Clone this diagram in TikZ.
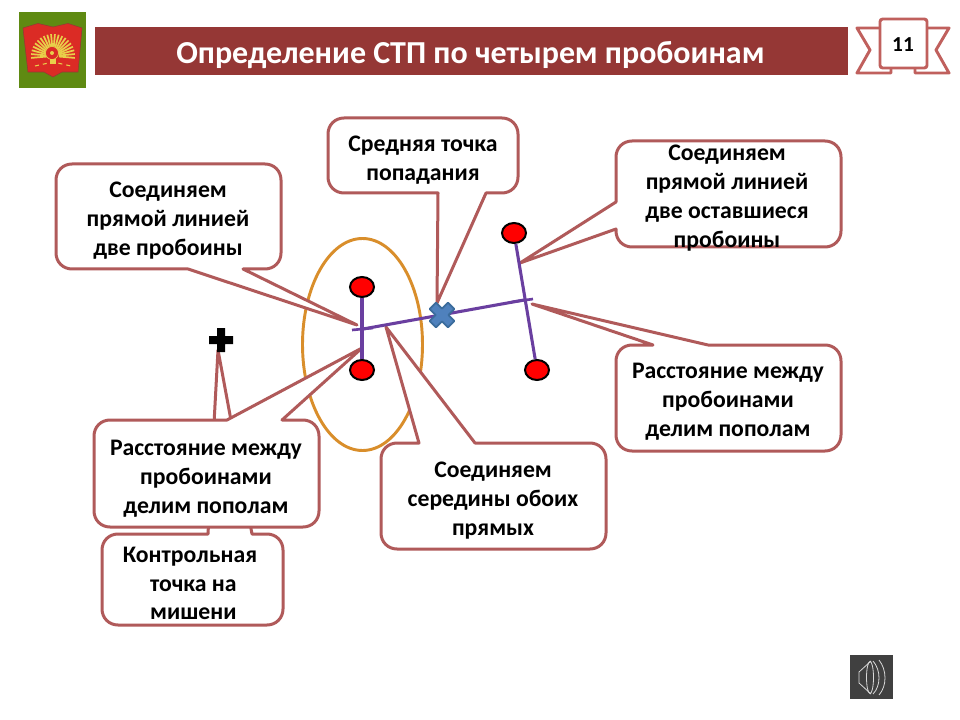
\documentclass[tikz,border=0pt]{standalone}
\usepackage{fontspec}
\setmainfont{Carlito}
\usetikzlibrary{shapes.geometric}
\definecolor{band}{HTML}{953735}
\definecolor{edgec}{HTML}{B05A5A}
\definecolor{ribbon}{HTML}{C0605D}
\definecolor{orangec}{HTML}{D98E2B}
\definecolor{purplec}{HTML}{6A3FA0}
\definecolor{crossf}{HTML}{4F81BD}
\definecolor{crossd}{HTML}{3B6C9C}
\definecolor{logog}{HTML}{5F8A12}
\definecolor{logor}{HTML}{DB2B25}
\definecolor{logoy}{HTML}{E8D04A}
\tikzset{
  callout/.style={draw=edgec,fill=white,line width=2.25pt,line join=round},
  label/.style={font=\fontsize{17.8}{21.6}\selectfont\bfseries,align=center,text=black,inner sep=0pt},
  hole/.style={ellipse,draw=black,fill=red,line width=1.5pt,minimum width=18pt,minimum height=15pt,inner sep=0pt},
  seg/.style={draw=purplec,line width=2.3pt},
  tick/.style={draw=purplec,line width=2pt},
}
% #1 left, #2 top, #3 right, #4 bottom; #5-#8 wedge pieces on the top, right, bottom, left side
\newcommand{\callbox}[8]{%
  \draw[callout] ({#1+16},#2) #5 -- ({#3-16},#2) .. controls ({#3-7},#2) and (#3,{#2+7}) .. (#3,{#2+16})
    #6 -- (#3,{#4-16}) .. controls (#3,{#4-7}) and ({#3-7},#4) .. ({#3-16},#4)
    #7 -- ({#1+16},#4) .. controls ({#1+7},#4) and (#1,{#4-7}) .. (#1,{#4-16})
    #8 -- (#1,{#2+16}) .. controls (#1,{#2+7}) and ({#1+7},#2) .. ({#1+16},#2) -- cycle;}
\begin{document}
\begin{tikzpicture}[x=0.75pt,y=-0.75pt]
\useasboundingbox (0,0) rectangle (960,720);
\fill[white] (0,0) rectangle (960,720);
% header
\fill[band] (94.5,27.5) rectangle (848,75);
\node[font=\fontsize{24}{28}\selectfont\bfseries,text=white,inner sep=0pt] (title) at (470.5,55) {Определение СТП по четырем пробоинам};
% logo
\fill[logog] (19,12) rectangle (86,88);
\fill[logor,draw=band,line width=.4pt] (23,28) -- (38,23.5) -- (53,27) -- (68,23.5) -- (82,28) -- (78,72) -- (62,72) -- (53,77) -- (44,72) -- (28,72) -- cycle;
\foreach \a in {-185,-175,...,5} {
  \draw[logoy,line width=1.3pt] (53,56) ++(\a:6) -- ++(\a:16);
}
\fill[logor,draw=logoy,line width=.5pt] (52,53) circle[radius=6.5];
\fill[logoy] (52,53) circle[radius=2];
\draw[logoy,line width=.8pt,dashed] (35,66) -- (53,62) -- (71,66);
\fill[logoy] (50,59) rectangle (56,64);
% page ribbon
\draw[ribbon,line width=2.2pt,line join=round] (880,28) -- (857,28) -- (870,50) -- (857,73) -- (891,73) -- (891,68);
\draw[ribbon,line width=2.2pt,line join=round] (927,28) -- (949,28) -- (936,50) -- (949,73) -- (915,73) -- (915,68);
\draw[ribbon,line width=2.2pt,rounded corners=2pt,fill=white] (880,19) rectangle (927,68);
\node[font=\fontsize{16}{18}\selectfont\bfseries,inner sep=0pt] (pagenum) at (903,45) {11};
% sound icon
\fill[black!75] (849.5,655) rectangle (893,698.5);
\draw[white!85!black,line width=.6pt] (871,661) -- (859,672) -- (859,683) -- (871,694);
\draw[white!85!black,line width=.6pt] (870,677.5) ellipse[x radius=3.5,y radius=16];
\draw[white!85!black,line width=.6pt] (873,661) .. controls (881,670) and (881,686) .. (873,694);
\draw[white!85!black,line width=.6pt] (879,660) .. controls (887,670) and (887,686) .. (879,695);
% ellipse
\draw[orangec,line width=2.2pt] (362.5,344.5) ellipse[x radius=60,y radius=106];
% wedge tips
\coordinate (tipA) at (357,325);
\coordinate (tipB) at (437,303);
\coordinate (tipC) at (520,263);
\coordinate (tipD) at (532,304);
\coordinate (tipE) at (386,327);
\coordinate (tipF) at (362,348);
\coordinate (tipG) at (218,350);
% callouts; G comes first, its wedge runs behind F
\callbox{102}{534}{283}{625}{-- (208,534) -- (tipG) -- (252,534)}{}{}{}
\callbox{94}{420}{319}{527}{-- (227,420) -- (tipF) -- (282,420)}{}{}{}
\callbox{56}{164}{281}{269}{}{}{-- (243,269) -- (tipA) -- (188,269)}{}
\callbox{328}{118}{518}{193}{}{}{-- (486,193) -- (tipB) -- (438,193)}{}
\callbox{616}{141}{841}{247}{}{}{}{-- (616,229) -- (tipC) -- (616,202)}
\callbox{616}{345}{841}{451}{-- (653,345) -- (tipD) -- (708,345)}{}{}{}
\callbox{381}{443}{606}{549}{-- (419,443) -- (tipE) -- (475,443)}{}{}{}
% labels
\node[label] (la) at (168,220.5) {Соединяем\\прямой линией\\две пробоины};
\node[label] (lb) at (423,160) {Средняя точка\\попадания};
\node[label] (lc) at (727,198) {Соединяем\\прямой линией\\две оставшиеся\\пробоины};
\node[label] (ld) at (728,402) {Расстояние между\\пробоинами\\делим пополам};
\node[label] (le) at (493,500.5) {Соединяем\\середины обоих\\прямых};
\node[label] (lf) at (206,478.5) {Расстояние между\\пробоинами\\делим пополам};
\node[label] (lg) at (192,583.5) {Контрольная\hbox to 3pt{}\\\hbox to 2pt{}точка на\\\hbox to 2pt{}мишени};
% holes
\node[hole] (h1) at (362,287) {};
\node[hole] (h2) at (362,370) {};
\node[hole] (h3) at (514,233) {};
\node[hole] (h4) at (537,370) {};
% midpoints
\coordinate (m1) at (363,329);
\coordinate (m2) at (524,300);
\coordinate (t1a) at (352,330);
\coordinate (t1b) at (373,328);
\coordinate (t2a) at (512,302);
\coordinate (t2b) at (533,299);
\draw[seg] (h1) -- (h2);
\draw[seg] (h3) -- (h4);
\draw[seg] (m1) -- (m2);
\draw[tick] (t1a) -- (t1b);
\draw[tick] (t2a) -- (t2b);
% mean point cross
\draw[fill=crossf,draw=crossd,line width=1.3pt,line join=round,shift={(442,315)},rotate=45]
  (-4.5,-13) -- (4.5,-13) -- (4.5,-4.5) -- (13,-4.5) -- (13,4.5) -- (4.5,4.5) -- (4.5,13) -- (-4.5,13) -- (-4.5,4.5) -- (-13,4.5) -- (-13,-4.5) -- (-4.5,-4.5) -- cycle;
% control point plus
\fill[black] (217,328) -- (225,328) -- (225,336) -- (233,336) -- (233,344) -- (225,344) -- (225,352) -- (217,352) -- (217,344) -- (209,344) -- (209,336) -- (217,336) -- cycle;
\end{tikzpicture}
\end{document}
